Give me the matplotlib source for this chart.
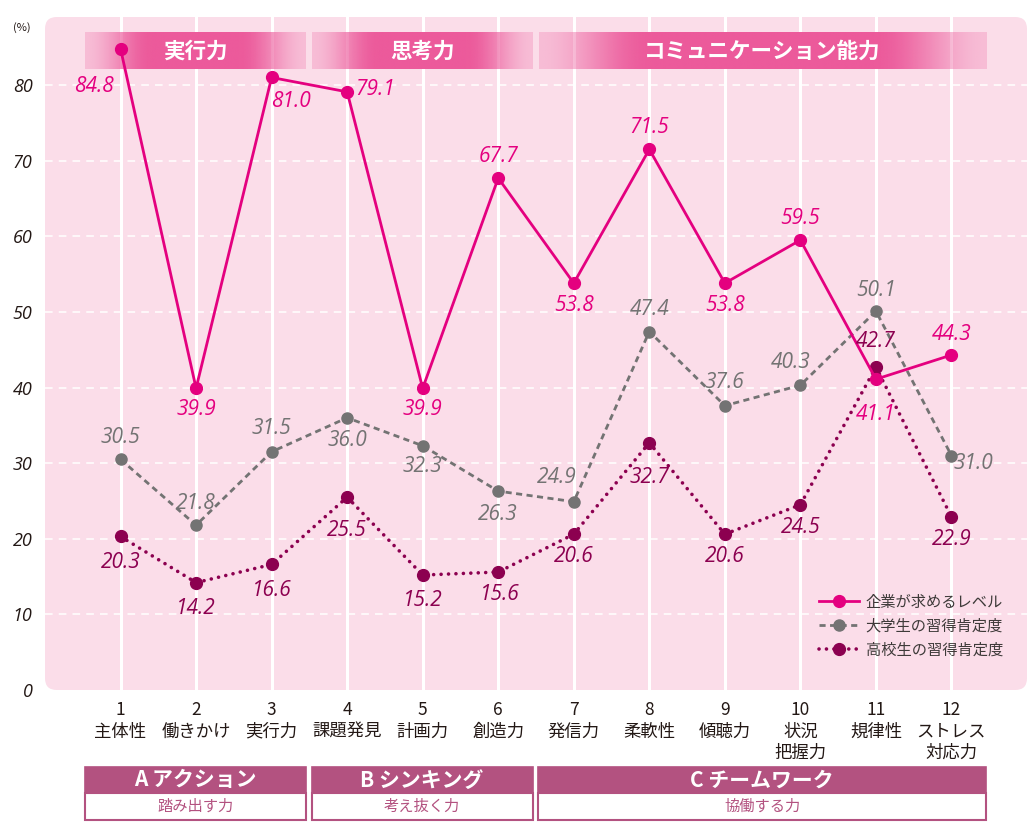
import numpy as np
import matplotlib
matplotlib.use('Agg')
import matplotlib.pyplot as plt
from matplotlib.patches import FancyBboxPatch, Rectangle
from matplotlib.lines import Line2D
from matplotlib.colors import to_rgb

plt.rcParams['font.family'] = ['Noto Sans CJK JP', 'DejaVu Sans']

# ---------------- data ----------------
x_pos = list(range(1, 13))
numbers = [str(i) for i in x_pos]
skills = ['主体性', '働きかけ', '実行力', '課題発見', '計画力', '創造力',
          '発信力', '柔軟性', '傾聴力', '状況\n把握力', '規律性', 'ストレス\n対応力']
company = [84.8, 39.9, 81.0, 79.1, 39.9, 67.7, 53.8, 71.5, 53.8, 59.5, 41.1, 44.3]
university = [30.5, 21.8, 31.5, 36.0, 32.3, 26.3, 24.9, 47.4, 37.6, 40.3, 50.1, 31.0]
highschool = [20.3, 14.2, 16.6, 25.5, 15.2, 15.6, 20.6, 32.7, 20.6, 24.5, 42.7, 22.9]
series_names = ['企業が求めるレベル', '大学生の習得肯定度', '高校生の習得肯定度']
top_groups = ['実行力', '思考力', 'コミュニケーション能力']
group_titles = ['A アクション', 'B シンキング', 'C チームワーク']
group_subtitles = ['踏み出す力', '考え抜く力', '協働する力']
group_spans = [(1, 3), (4, 6), (7, 12)]
y_ticks = [0, 10, 20, 30, 40, 50, 60, 70, 80]

# ---------------- layout / style ----------------
W, H = 1032, 832
C_MAG = '#e4007f'
C_GRY = '#737373'
C_PUR = '#8c0050'
C_BG = '#fbdde9'
C_BAND = '#ec5a9b'
C_BOX = '#b35280'

# label offsets (pixels) for data labels
off_company = [(-27, -38), (0, -21), (19, -24), (28, 2), (0, -21), (0, 22),
               (0, -22), (0, 22), (0, -22), (0, 22), (0, -35), (0, 21)]
off_univ = [(0, 22), (0, 22), (0, 23), (0, -23), (0, -21), (0, -23),
            (-17, 24), (0, 22), (0, 23), (-10, 23), (0, 21), (22, -8)]
off_high = [(0, -26), (0, -26), (0, -26), (0, -33), (0, -25), (2, -22),
            (0, -22), (0, -35), (0, -22), (0, -23), (0, 26), (0, -23)]

fig = plt.figure(figsize=(W / 100, H / 100), dpi=100)
ax = fig.add_axes([45 / W, 1 - 690 / H, (1027 - 45) / W, (690 - 17) / H])
ax.set_xlim(0, 13)
ax.set_ylim(0, 89)
ax.patch.set_visible(False)
for s in ax.spines.values():
    s.set_visible(False)

bg = FancyBboxPatch((0, 0), 1, 1, boxstyle='round,pad=0,rounding_size=0.012',
                    mutation_aspect=982 / 673, transform=ax.transAxes,
                    fc=C_BG, ec='none', zorder=0, clip_on=False)
ax.add_patch(bg)

for yv in y_ticks[1:]:
    ax.axhline(yv, color='white', lw=1.1, ls=(0, (5, 4)), zorder=0.5)
for xv in x_pos:
    ax.axvline(xv, color='white', lw=2.2, zorder=0.5)

# top gradient bands
band_rgb = np.array(to_rgb(C_BAND))
for (s, e), name in zip(group_spans, top_groups):
    x0, x1 = s - 0.465, e + 0.455
    n = 400
    t = np.linspace(0, 1, n)
    d = np.minimum(t, 1 - t)
    ramp = 0.3 if (x1 - x0) < 4 else 0.25
    a = np.clip(d / ramp, 0, 1)
    a = a * a * (3 - 2 * a)
    alpha = 0.25 + 0.75 * a
    img = np.zeros((1, n, 4))
    img[0, :, :3] = band_rgb
    img[0, :, 3] = alpha
    ax.imshow(img, extent=(x0, x1, 82.1, 86.9), aspect='auto', zorder=2,
              interpolation='bilinear')
    ax.text((x0 + x1) / 2, 84.5, name, color='white', fontsize=15.5,
            fontweight='bold', ha='center', va='center', zorder=3)
ax.set_xlim(0, 13)
ax.set_ylim(0, 89)

# lines
ax.plot(x_pos, highschool, color=C_PUR, lw=2.6, ls=(0, (0.01, 2.05)),
        dash_capstyle='round', marker='o', ms=8.5, zorder=4,
        label=series_names[2])
ax.plot(x_pos, university, color=C_GRY, lw=2.0, ls=(0, (2.2, 1.6)),
        marker='o', ms=8.0, zorder=5, label=series_names[1])
ax.plot(x_pos, company, color=C_MAG, lw=2.0, marker='o', ms=8.5, zorder=6,
        label=series_names[0])

lab_font = dict(family=['Open Sans', 'DejaVu Sans'], style='italic', fontsize=15)
for vals, offs, col in [(company, off_company, C_MAG),
                        (university, off_univ, C_GRY),
                        (highschool, off_high, C_PUR)]:
    for xv, yv, (dx, dy) in zip(x_pos, vals, offs):
        ax.annotate(f'{yv:.1f}', (xv, yv), xytext=(dx, dy),
                    textcoords='offset pixels', ha='center', va='center',
                    color=col, zorder=7, **lab_font)

# axes ticks
ax.set_yticks(y_ticks)
ax.set_yticklabels([str(v) for v in y_ticks])
for lbl in ax.get_yticklabels():
    lbl.set_fontstyle('italic')
    lbl.set_family(['Open Sans', 'DejaVu Sans'])
ax.tick_params(axis='y', length=0, pad=9, labelsize=13, labelcolor='#231815')
ax.set_xticks(x_pos)
ax.set_xticklabels([f'{n}\n{s}' for n, s in zip(numbers, skills)],
                   fontsize=12.5, linespacing=1.25, color='#231815')
ax.tick_params(axis='x', length=0, pad=8)

# legend
handles = [Line2D([], [], color=C_MAG, lw=2.0, marker='o', ms=8.5),
           Line2D([], [], color=C_GRY, lw=2.0, ls=(0, (2.2, 1.6)), marker='o', ms=8.0),
           Line2D([], [], color=C_PUR, lw=2.6, ls=(0, (0.01, 2.05)),
                  dash_capstyle='round', marker='o', ms=8.5)]
leg = ax.legend(handles, series_names, loc='upper left',
                bbox_to_anchor=(0.782, 0.152), frameon=False, fontsize=11,
                handlelength=2.6, handletextpad=0.45, labelspacing=0.45,
                borderaxespad=0)
for t in leg.get_texts():
    t.set_color('#3e3a39')

# bottom group boxes
for (s, e), title, sub in zip(group_spans, group_titles, group_subtitles):
    x0, x1 = s - 0.47, e + 0.455
    ax.add_patch(Rectangle((x0, -13.6), x1 - x0, 3.4, fc=C_BOX, ec=C_BOX,
                           lw=1.2, clip_on=False, zorder=3))
    ax.add_patch(Rectangle((x0, -17.2), x1 - x0, 3.6, fc='white', ec=C_BOX,
                           lw=1.5, clip_on=False, zorder=3))
    ax.text((x0 + x1) / 2, -11.9, title, color='white', fontsize=15,
            fontweight='bold', ha='center', va='center', clip_on=False, zorder=4)
    ax.text((x0 + x1) / 2, -15.4, sub, color=C_BOX, fontsize=11,
            ha='center', va='center', clip_on=False, zorder=4)

fig.text(22 / W, 1 - 28 / H, '(%)', fontsize=8, ha='center', va='center',
         color='#231815')

fig.savefig('out.png', dpi=100)
